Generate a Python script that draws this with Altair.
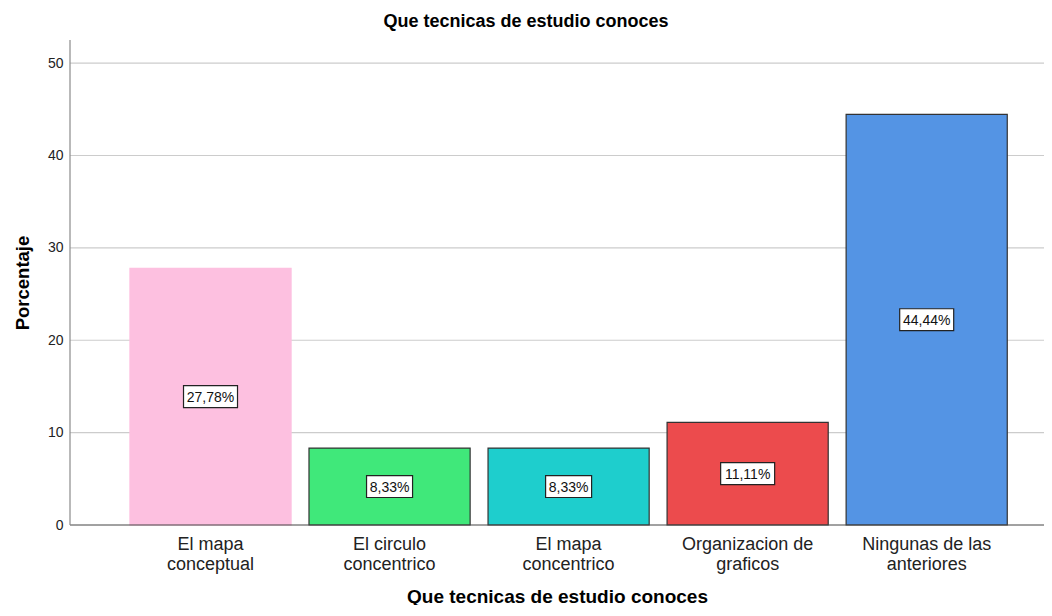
import altair as alt
import pandas as pd

categories = [
    "El mapa conceptual",
    "El circulo concentrico",
    "El mapa concentrico",
    "Organizacion de graficos",
    "Ningunas de las anteriores",
]
percentages = [27.78, 8.33, 8.33, 11.11, 44.44]
bar_colors = ["#FDC0E0", "#40E87A", "#1ECECD", "#EC4B4D", "#5494E4"]
bar_strokes = ["#FDC0E0", "#333333", "#333333", "#333333", "#333333"]
y_ticks = [0, 10, 20, 30, 40, 50]
y_max = 52.5

labels = [f"{v:.2f}".replace(".", ",") + "%" for v in percentages]
df = pd.DataFrame({"cat": categories, "pct": percentages, "label": labels})
df["mid"] = df["pct"] / 2
df["kind"] = ["wide" if len(s) > 5 else "narrow" for s in labels]
grid_df = pd.DataFrame({"v": y_ticks[1:]})
base_df = pd.DataFrame({"v": y_ticks[:1]})
top_df = pd.DataFrame({"v": [y_max]})

FONT = "Liberation Sans"
TITLE = "Que tecnicas de estudio conoces"

x_scale = alt.Scale(paddingInner=0.1, paddingOuter=0.27, align=0.62)
x_axis = alt.Axis(
    title=TITLE,
    titleFont=FONT,
    titleFontSize=19,
    titleFontWeight="bold",
    titleColor="#000000",
    titlePadding=14,
    labelFont=FONT,
    labelFontSize=18,
    labelLineHeight=20,
    labelColor="#222222",
    labelPadding=10,
    labelAngle=0,
    labelLimit=300,
    labelExpr="[slice(datum.label, 0, lastindexof(datum.label, ' ')), slice(datum.label, lastindexof(datum.label, ' ') + 1)]",
    ticks=False,
    domain=False,
    grid=False,
)

y_scale = alt.Scale(domain=[0, y_max], nice=False)
y_axis = alt.Axis(
    title="Porcentaje",
    titleFont=FONT,
    titleFontSize=18.5,
    titleFontWeight="bold",
    titleColor="#000000",
    titlePadding=15,
    values=y_ticks,
    labelFont=FONT,
    labelFontSize=14,
    labelColor="#222222",
    labelPadding=7,
    ticks=False,
    domain=False,
    grid=False,
)

gridlines = alt.Chart(grid_df).mark_rule(color="#cccccc", strokeWidth=1.2).encode(
    y=alt.Y("v:Q", scale=y_scale, axis=y_axis)
)
top_cover = alt.Chart(top_df).mark_rule(color="#ffffff", strokeWidth=3).encode(
    y=alt.Y("v:Q", scale=y_scale, axis=y_axis)
)
y_line = alt.Chart(base_df).mark_rule(color="#8a8a8a", strokeWidth=1.2).encode(
    x=alt.value(0), y=alt.value(0), y2=alt.value(485)
)
x_line = alt.Chart(base_df).mark_rule(color="#444444", strokeWidth=1).encode(
    y=alt.Y("v:Q", scale=y_scale, axis=y_axis)
)

bars = alt.Chart(df).mark_bar(strokeWidth=1.2, opacity=1).encode(
    x=alt.X("cat:N", sort=categories, scale=x_scale, axis=x_axis),
    y=alt.Y("pct:Q", scale=y_scale, axis=y_axis),
    color=alt.Color("cat:N", scale=alt.Scale(domain=categories, range=bar_colors), legend=None),
    stroke=alt.Stroke("cat:N", scale=alt.Scale(domain=categories, range=bar_strokes), legend=None),
)

boxes = alt.Chart(df).mark_point(
    filled=True, fill="#ffffff", stroke="#222222", strokeWidth=1.2, opacity=1, size=2916
).encode(
    x=alt.X("cat:N", sort=categories, scale=x_scale, axis=x_axis),
    y=alt.Y("mid:Q", scale=y_scale, axis=y_axis),
    shape=alt.Shape(
        "kind:N",
        scale=alt.Scale(
            domain=["wide", "narrow"],
            range=["M-1,-0.407H1V0.407H-1Z", "M-0.852,-0.407H0.852V0.407H-0.852Z"],
        ),
        legend=None,
    ),
)

texts = alt.Chart(df).mark_text(
    font=FONT, fontSize=14, color="#111111", baseline="middle", align="center", dy=1
).encode(
    x=alt.X("cat:N", sort=categories, scale=x_scale, axis=x_axis),
    y=alt.Y("mid:Q", scale=y_scale, axis=y_axis),
    text="label:N",
)

chart = (
    alt.layer(gridlines, top_cover, bars, x_line, y_line, boxes, texts)
    .properties(
        width=974,
        height=485,
        padding={"left": 62, "top": 32, "right": 0, "bottom": 80},
        autosize=alt.AutoSizeParams(type="none"),
        title=alt.TitleParams(
            TITLE,
            font=FONT,
            fontSize=18,
            fontWeight="bold",
            color="#000000",
            anchor="middle",
            dx=-31,
            offset=8,
        ),
    )
    .configure(background="#ffffff")
    .configure_view(stroke=None, strokeWidth=0)
)

chart.save("out.html", embed_options={"renderer": "svg", "actions": False})
